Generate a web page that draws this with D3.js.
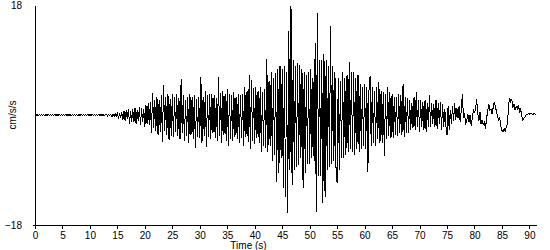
<!DOCTYPE html>
<html>
<head>
<meta charset="utf-8">
<script src="https://cdn.jsdelivr.net/npm/d3@7"></script>
<style>
  body { margin: 0; background: #fff; }
  svg { display: block; font-family: "Liberation Sans", Arial, sans-serif; }
</style>
</head>
<body>
<div id="chart"></div>
<script>
// acceleration record, one reading every 0.2 s
const sampleStep = 0.2;
const accel = [
  // 0 - 13 s, quiet
  0.1,-0.09,0.08,-0.1,0.09, -0.08,0.1,-0.09,0.08,-0.1, 0.09,-0.08,0.1,-0.09,0.08,
  -0.1,0.09,-0.08,0.1,-0.09, 0.08,-0.1,0.09,-0.08,0.1, -0.09,0.08,-0.1,0.09,-0.08,
  0.1,-0.09,0.08,-0.1,0.09, -0.08,0.1,-0.09,0.08,-0.1, 0.09,-0.08,0.1,-0.09,0.08,
  -0.1,0.09,-0.08,0.1,-0.09, 0.08,-0.1,0.09,-0.08,0.1, -0.09,0.08,-0.1,0.09,-0.08,
  0.1,-0.09,0.08,-0.1,0.09,
  // 13 - 25 s
  0.12,-0.15,0.12,-0.1,0.15, -0.3,0.2,-0.25,0.3,-0.2, 0.45,-0.6,0.3,-0.5,0.5,
  -0.8,0.7,-1.0,0.8,-0.6, 1.0,-1.4,0.6,-1.1,0.9, -1.2,1.2,-1.5,0.8,-1.0,
  1.3,-1.6,1.1,-1.2,0.9, -2.0,1.6,-1.4,2.0,-1.7, 2.2,-3.0,3.6,-2.2,2.5,
  -2.6,3.0,-3.3,2.4,-2.8, 3.2,-4.4,4.9,-2.6,3.0, -3.2,3.5,-4.1,2.6,-3.4,
  // 25 - 40 s
  3.4,-3.6,3.0,-2.8,3.5, -3.4,2.8,-4.0,5.9,-3.0, 3.3,-4.2,2.4,-3.5,3.0,
  -4.6,3.5,-3.2,3.0,-4.0, 3.2,-5.4,2.6,-3.6,3.0, -3.8,6.2,-4.5,3.0,-3.4,
  4.0,-5.2,3.2,-3.6,3.5, -4.0,3.5,-3.0,3.2,-3.8, 2.8,-4.3,6.2,-3.5,3.6,
  -4.5,4.0,-3.2,3.4,-4.2, 4.2,-5.0,3.5,-4.0,3.2, -4.3,3.8,-3.6,3.0,-3.9,
  3.5,-4.5,3.2,-3.8,3.4, -5.0,4.5,-3.6,4.0,-4.4, 6.5,-5.5,5.7,-4.2,4.4,
  // 40 - 55 s
  -4.8,4.5,-3.8,4.0,-4.5, 4.5,-6.0,3.8,-5.0,4.2, -5.4,9.2,-6.0,5.5,-5.0,
  7.0,-7.5,6.0,-6.5,6.8, -11.0,7.5,-9.5,8.0,-7.0, 7.5,-12.0,8.0,-13.4,7.0,
  -16.0,13.7,-9.0,17.8,-11.5, 9.0,-9.0,8.0,-8.5,8.5, -8.2,8.2,-7.0,7.5,-12.0,
  7.0,-9.5,6.5,-8.0,7.0, -8.0,7.5,-7.0,6.0,-7.5, 11.8,-15.9,16.7,-10.0,9.0,
  -10.0,9.0,-14.4,10.0,-13.4, 9.0,-9.0,8.0,-8.5,14.6, -8.0,8.0,-7.5,7.0,-9.0,
  // 55 - 70 s
  -11.2,6.0,-9.0,5.5,-7.0, 7.0,-7.0,6.0,-6.5,6.5, -6.0,8.7,-5.5,7.0,-6.0,
  7.0,-6.5,6.0,-5.5,6.5, -6.0,5.0,-5.5,4.5,-5.0, 5.0,-5.5,4.5,-9.3,4.0,
  6.4,-5.0,4.5,-4.5,4.0, -5.0,4.5,-4.0,5.4,-4.5, 4.0,-4.5,3.8,-6.7,3.5,
  -4.0,4.6,-3.5,3.8,-3.8, 3.4,-3.8,3.0,-3.2,3.0, -3.5,3.5,-3.0,3.2,-3.2,
  5.0,-3.6,3.0,-3.0,2.8, -3.0,2.5,-2.5,2.0,-2.2, 3.0,-2.5,3.8,-2.0,2.5,
  // 70 - 80 s
  -2.8,2.5,-2.0,2.2,-2.5, 2.5,-2.8,2.0,-2.0,3.3, -2.0,2.0,-1.5,1.8,-2.0,
  2.5,-2.3,2.0,-1.5,2.2, -2.5,1.8,-2.0,1.0,-1.8, -3.3,1.5,-2.5,0.8,-1.5,
  1.5,-1.0,2.0,-0.8,1.2, -0.5,1.5,-1.2,0.8,3.4, -0.5,0.3,-1.6,-0.8,0.2,
  -1.2,0.0,-1.8,-0.5,0.8,
  // 80 - 91.2 s
  0.5,0.9,2.6,0.2,-1.0, 0.5,-1.5,-0.8,-1.6,-1.2, -2.3,-0.5,0.5,1.8,0.8,
  1.0,0.2,1.2,2.1,1.5, 0.5,-0.2,-0.8,-0.5,-1.8, -2.5,-2.8,-2.2,-2.6,-2.0,
  -1.5,1.5,2.8,2.2,2.6, 1.2,1.8,0.8,1.4,1.0, 1.6,0.6,1.0,-0.2,-0.8,
  -0.5,-0.3,0.0,0.1,0.2, 0.15,0.25,0.2,0.1,0.2, 0.15,0.1
];

const timeTicks = [0, 5, 10, 15, 20, 25, 30, 35, 40, 45, 50, 55, 60, 65, 70, 75, 80, 85, 90];
const accelTicks = [18, -18];
const timeDomain = [0, 91.2];
const accelDomain = [-18, 18];
const xLabel = "Time (s)";
const yLabel = "cm/s/s";

let width = 550, height = 250;

let svg = d3.select("#chart").append("svg")
  .attr("width", width)
  .attr("height", height);

let x = d3.scaleLinear().domain(timeDomain).range([35, 536]);
let y = d3.scaleLinear().domain(accelDomain).range([225, 5]);

let points = accel.map((v, i) => ({ t: i * sampleStep, v: v }));

let line = d3.line()
  .x(d => x(d.t))
  .y(d => y(d.v));

svg.append("path")
  .datum(points)
  .attr("d", line)
  .attr("fill", "none")
  .attr("stroke", "#000")
  .attr("stroke-width", 1)
  .attr("shape-rendering", "crispEdges");

// x axis
svg.append("g")
  .attr("transform", "translate(0," + y(-18) + ")")
  .call(d3.axisBottom(x).tickValues(timeTicks).tickSize(4).tickPadding(3).tickSizeOuter(0));

// y axis
svg.append("g")
  .attr("transform", "translate(" + x(0) + ",0)")
  .call(d3.axisLeft(y).tickValues(accelTicks).tickSize(0).tickPadding(13).tickSizeOuter(0));

svg.selectAll(".domain").attr("stroke", "#000").attr("shape-rendering", "crispEdges");
svg.selectAll(".tick line").attr("stroke", "#000").attr("shape-rendering", "crispEdges");
svg.selectAll(".tick text").attr("fill", "#000").style("font-size", "10px").style("font-family", "'Liberation Sans', Arial, sans-serif");

// little stub left of the origin
svg.append("line")
  .attr("x1", x(0) - 2).attr("x2", x(0))
  .attr("y1", y(-18)).attr("y2", y(-18))
  .attr("stroke", "#000")
  .attr("shape-rendering", "crispEdges");

svg.append("text")
  .attr("x", 248.5)
  .attr("y", 248.5)
  .attr("text-anchor", "middle")
  .style("font-size", "10px")
  .text(xLabel);

svg.append("text")
  .attr("transform", "translate(15.5," + y(0) + ") rotate(-90)")
  .attr("text-anchor", "middle")
  .style("font-size", "10px")
  .text(yLabel);
</script>
</body>
</html>
